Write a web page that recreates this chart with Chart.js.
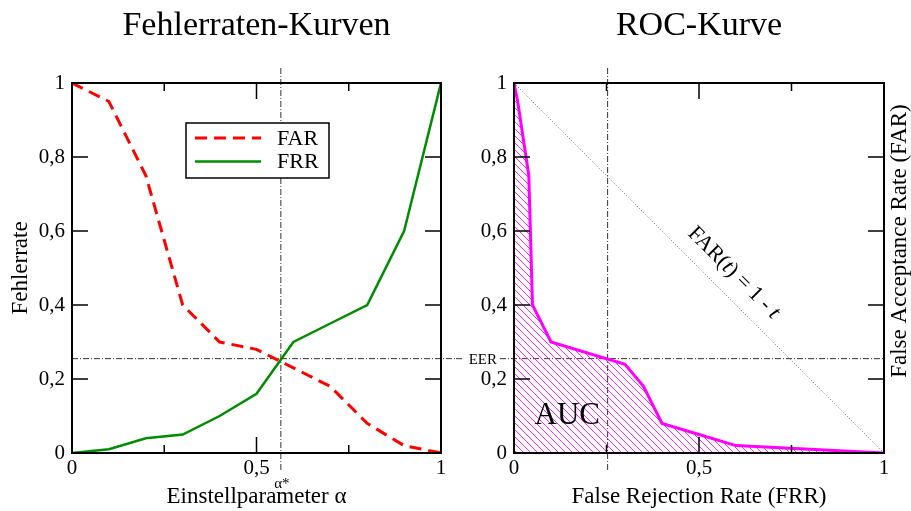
<!DOCTYPE html>
<html lang="de">
<head>
<meta charset="utf-8">
<title>Fehlerraten-Kurven und ROC-Kurve</title>
<script src="https://cdn.jsdelivr.net/npm/chart.js@4.4.1/dist/chart.umd.min.js"></script>
<style>
  html, body { margin: 0; padding: 0; background: #fff; }
  #wrap { position: relative; width: 911px; height: 511px; overflow: hidden; }
  canvas { position: absolute; top: 0; }
  #links { left: 0; width: 456px; height: 511px; }
  #rechts { left: 456px; width: 455px; height: 511px; }
</style>
</head>
<body>
<div id="wrap">
  <canvas id="links" width="456" height="511"></canvas>
  <canvas id="rechts" width="455" height="511"></canvas>
</div>
<script>
// Einstellparameter und Fehlerraten
const alpha = [0, 0.1, 0.2, 0.3, 0.4, 0.5, 0.6, 0.7, 0.8, 0.9, 1];
const farWerte = [1, 0.95, 0.75, 0.4, 0.3, 0.28, 0.23, 0.18, 0.08, 0.02, 0];
const frrWerte = [0, 0.01, 0.04, 0.05, 0.1, 0.16, 0.3, 0.35, 0.4, 0.6, 1];

// ROC: FAR über FRR
const rocFrr = [0, 0.01, 0.04, 0.05, 0.1, 0.3, 0.35, 0.4, 0.5, 0.6, 1];
const rocFar = [1, 0.95, 0.75, 0.4, 0.3, 0.24, 0.18, 0.08, 0.05, 0.02, 0];
const diagFrr = [0, 1];
const diagFar = [1, 0];

// Achsenteilung
const xTicks = [0, 0.25, 0.5, 0.75, 1];
const xBeschriftet = [0, 0.5, 1];
const yTicks = [0, 0.2, 0.4, 0.6, 0.8, 1];

// Equal Error Rate
const eerAlpha = 0.566;
const eerRate = 0.255;
const eerFrr = 0.253;

const SCHRIFT = "'Liberation Serif', 'DejaVu Serif', serif";

function zahl(v) {
    return String(Math.round(v * 100) / 100).replace('.', ',');
}

function punkte(xs, ys) {
    return xs.map((x, i) => ({ x: x, y: ys[i] }));
}

function achsen(xTitel, yTitel, yBreite) {
    return {
        x: {
            type: 'linear', min: 0, max: 1,
            afterBuildTicks: s => { s.ticks = xTicks.map(v => ({ value: v })); },
            afterFit: s => { s.height = 58; },
            grid: { display: false, drawTicks: false },
            border: { display: false },
            ticks: {
                autoSkip: false, maxRotation: 0, padding: 3, color: '#000',
                font: { family: SCHRIFT, size: 21 },
                callback: v => xBeschriftet.includes(v) ? zahl(v) : ''
            },
            title: {
                display: true, text: xTitel, color: '#000',
                font: { family: SCHRIFT, size: 23 }, padding: { top: 0, bottom: 0 }
            }
        },
        y: {
            type: 'linear', min: 0, max: 1,
            afterBuildTicks: s => { s.ticks = yTicks.map(v => ({ value: v })); },
            afterFit: s => { s.width = yBreite; },
            grid: { display: false, drawTicks: false },
            border: { display: false },
            ticks: {
                autoSkip: false, padding: 7, color: '#000',
                font: { family: SCHRIFT, size: 21 },
                callback: v => zahl(v)
            },
            title: {
                display: !!yTitel, text: yTitel || '', color: '#000',
                font: { family: SCHRIFT, size: 23 }, padding: { top: 7, bottom: 0 }
            }
        }
    };
}

function titel(chart, text) {
    const { ctx, chartArea: a } = chart;
    ctx.save();
    ctx.fillStyle = '#000';
    ctx.font = '34px ' + SCHRIFT;
    ctx.textAlign = 'center';
    ctx.textBaseline = 'alphabetic';
    ctx.fillText(text, (a.left + a.right) / 2, 35);
    ctx.restore();
}

function rahmenUndTicks(chart) {
    const { ctx, chartArea: a, scales: { x, y } } = chart;
    ctx.save();
    ctx.strokeStyle = '#000';
    ctx.lineWidth = 1.5;
    ctx.beginPath();
    xTicks.forEach(v => {
        const px = x.getPixelForValue(v);
        const len = xBeschriftet.includes(v) ? 16 : 8;
        ctx.moveTo(px, a.bottom); ctx.lineTo(px, a.bottom - len);
        ctx.moveTo(px, a.top); ctx.lineTo(px, a.top + len);
    });
    yTicks.forEach(v => {
        const py = y.getPixelForValue(v);
        ctx.moveTo(a.left, py); ctx.lineTo(a.left + 16, py);
        ctx.moveTo(a.right, py); ctx.lineTo(a.right - 16, py);
    });
    ctx.stroke();
    ctx.lineWidth = 2;
    ctx.strokeRect(a.left, a.top, a.right - a.left, a.bottom - a.top);
    ctx.restore();
}

function strichPunkt(ctx, x1, y1, x2, y2) {
    ctx.save();
    ctx.strokeStyle = '#333';
    ctx.lineWidth = 1;
    ctx.setLineDash([6, 2, 1, 2]);
    ctx.beginPath();
    ctx.moveTo(x1, y1);
    ctx.lineTo(x2, y2);
    ctx.stroke();
    ctx.restore();
}

function legende(chart) {
    const { ctx, chartArea: a } = chart;
    const bx = a.left + 114, by = a.top + 40, bw = 143, bh = 55;
    ctx.save();
    ctx.fillStyle = '#fff';
    ctx.fillRect(bx, by, bw, bh);
    ctx.strokeStyle = '#000';
    ctx.lineWidth = 1.5;
    ctx.strokeRect(bx, by, bw, bh);
    chart.data.datasets.forEach((ds, i) => {
        const ly = by + 15 + i * 23.5;
        ctx.strokeStyle = ds.borderColor;
        ctx.lineWidth = ds.borderWidth;
        ctx.setLineDash(ds.borderDash || []);
        ctx.beginPath();
        ctx.moveTo(bx + 9, ly);
        ctx.lineTo(bx + 75, ly);
        ctx.stroke();
        ctx.setLineDash([]);
        ctx.fillStyle = '#000';
        ctx.font = '22px ' + SCHRIFT;
        ctx.textAlign = 'left';
        ctx.textBaseline = 'middle';
        ctx.fillText(ds.label, bx + 91, ly + 1);
    });
    ctx.restore();
}

// --- Linkes Diagramm: FAR und FRR über alpha ---
const zusatzLinks = {
    id: 'zusatzLinks',
    beforeDatasetsDraw(chart) {
        const { ctx, chartArea: a, scales: { x, y } } = chart;
        const px = x.getPixelForValue(eerAlpha);
        const py = y.getPixelForValue(eerRate);
        strichPunkt(ctx, px, 68, px, 470);
        strichPunkt(ctx, a.left, py, chart.width, py);
    },
    afterDraw(chart) {
        const { ctx, scales: { x } } = chart;
        titel(chart, 'Fehlerraten-Kurven');
        rahmenUndTicks(chart);
        legende(chart);
        ctx.save();
        ctx.fillStyle = '#000';
        ctx.font = '15px ' + SCHRIFT;
        ctx.textAlign = 'center';
        ctx.textBaseline = 'alphabetic';
        ctx.fillText('α*', x.getPixelForValue(eerAlpha) + 1, 488);
        ctx.restore();
    }
};

new Chart(document.getElementById('links'), {
    type: 'line',
    data: {
        datasets: [
            {
                label: 'FAR',
                data: punkte(alpha, farWerte),
                borderColor: '#ff0000',
                borderWidth: 3,
                borderDash: [12, 7],
                pointRadius: 0,
                fill: false
            },
            {
                label: 'FRR',
                data: punkte(alpha, frrWerte),
                borderColor: '#008c00',
                borderWidth: 2.5,
                pointRadius: 0,
                fill: false
            }
        ]
    },
    options: {
        responsive: false,
        animation: false,
        events: [],
        layout: { padding: { top: 83, right: 15, left: 0, bottom: 0 } },
        plugins: { legend: { display: false }, tooltip: { enabled: false } },
        scales: achsen('Einstellparameter α', 'Fehlerrate', 72)
    },
    plugins: [zusatzLinks]
});

// --- Rechtes Diagramm: ROC-Kurve mit schraffierter Fläche ---
const ctxRechts = document.getElementById('rechts').getContext('2d');

// Schraffur: eine 1px-Diagonale pro 7x7-Kachel
function schraffur(ctx) {
    const c = document.createElement('canvas');
    c.width = 7; c.height = 7;
    const g = c.getContext('2d');
    g.fillStyle = 'rgba(255, 0, 255, 0.85)';
    for (let i = 0; i < 7; i++) g.fillRect(i, i, 1, 1);
    return ctx.createPattern(c, 'repeat');
}

function textMitKursiv(ctx, teile, x, y) {
    const breiten = teile.map(t => {
        ctx.font = (t.kursiv ? 'italic ' : '') + '22px ' + SCHRIFT;
        return ctx.measureText(t.text).width;
    });
    let cx = x - breiten.reduce((s, b) => s + b, 0) / 2;
    teile.forEach((t, i) => {
        ctx.font = (t.kursiv ? 'italic ' : '') + '22px ' + SCHRIFT;
        ctx.fillText(t.text, cx, y);
        cx += breiten[i];
    });
}

const zusatzRechts = {
    id: 'zusatzRechts',
    beforeDatasetsDraw(chart) {
        const { ctx, chartArea: a, scales: { x, y } } = chart;
        const px = x.getPixelForValue(eerFrr);
        const py = y.getPixelForValue(eerRate);
        strichPunkt(ctx, px, 68, px, 470);
        strichPunkt(ctx, 0, py, a.right, py);
        ctx.save();
        ctx.fillStyle = '#fff';
        ctx.fillRect(8, py - 7, 35, 14);
        ctx.fillStyle = '#000';
        ctx.font = '15px ' + SCHRIFT;
        ctx.textAlign = 'right';
        ctx.textBaseline = 'alphabetic';
        ctx.fillText('EER', 41, py + 5);
        ctx.restore();
    },
    afterDraw(chart) {
        const { ctx, scales: { x, y } } = chart;
        titel(chart, 'ROC-Kurve');
        rahmenUndTicks(chart);
        ctx.save();
        ctx.fillStyle = '#000';
        // AUC
        ctx.font = '31px ' + SCHRIFT;
        ctx.textAlign = 'center';
        ctx.textBaseline = 'alphabetic';
        ctx.fillText('AUC', x.getPixelForValue(0.144), y.getPixelForValue(0.1) + 8);
        // Beschriftung der Diagonalen
        ctx.save();
        ctx.translate(x.getPixelForValue(0.594), y.getPixelForValue(0.487));
        ctx.rotate(Math.PI / 4);
        ctx.textAlign = 'left';
        ctx.textBaseline = 'middle';
        textMitKursiv(ctx, [
            { text: 'FAR(' }, { text: 't', kursiv: true },
            { text: ') = 1 - ' }, { text: 't', kursiv: true }
        ], 0, 0);
        ctx.restore();
        // rechte Achsenbeschriftung
        ctx.translate(450, 241);
        ctx.rotate(-Math.PI / 2);
        ctx.font = '23px ' + SCHRIFT;
        ctx.textAlign = 'center';
        ctx.textBaseline = 'alphabetic';
        ctx.fillText('False Acceptance Rate (FAR)', 0, 0);
        ctx.restore();
    }
};

new Chart(ctxRechts, {
    type: 'line',
    data: {
        datasets: [
            {
                label: 'ROC',
                data: punkte(rocFrr, rocFar),
                borderColor: '#ff00ff',
                borderWidth: 3,
                backgroundColor: schraffur(ctxRechts),
                pointRadius: 0,
                fill: 'origin'
            },
            {
                label: 'FAR(t) = 1 - t',
                data: punkte(diagFrr, diagFar),
                borderColor: '#666',
                borderWidth: 1,
                borderDash: [1, 2],
                pointRadius: 0,
                fill: false
            }
        ]
    },
    options: {
        responsive: false,
        animation: false,
        events: [],
        layout: { padding: { top: 83, right: 27, left: 0, bottom: 0 } },
        plugins: { legend: { display: false }, tooltip: { enabled: false } },
        scales: achsen('False Rejection Rate (FRR)', null, 58)
    },
    plugins: [zusatzRechts]
});
</script>
</body>
</html>
